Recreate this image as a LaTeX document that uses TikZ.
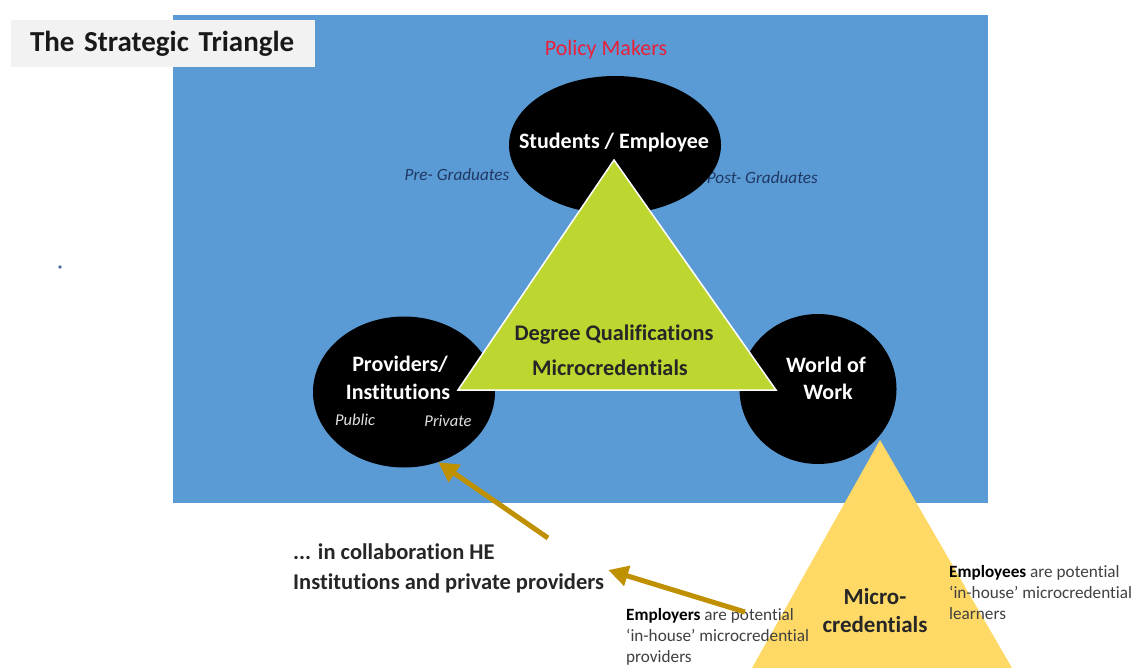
\documentclass[tikz,border=0pt]{standalone}
\usepackage{fontspec}
\setmainfont{Carlito}[Ligatures=NoCommon]
\usetikzlibrary{shapes.geometric,arrows.meta}
\definecolor{bgblue}{HTML}{5B9BD5}
\definecolor{titlegray}{HTML}{F2F2F2}
\definecolor{polred}{HTML}{E8203A}
\definecolor{gradblue}{HTML}{1F3864}
\definecolor{trigreen}{HTML}{BED630}
\definecolor{triyellow}{HTML}{FFD966}
\definecolor{gold}{HTML}{BF9000}
\definecolor{darktext}{HTML}{262626}
\definecolor{greytext}{HTML}{404040}
\definecolor{dotblue}{HTML}{4A6A9A}
\tikzset{
  blackell/.style={ellipse, fill=black, inner sep=0pt},
  whitebold/.style={text=white, font=\fontsize{22}{26}\selectfont\bfseries, inner sep=0pt},
  whiteit/.style={text=white!88!black, font=\fontsize{16.5}{20}\selectfont\itshape, inner sep=0pt},
  gradtext/.style={text=gradblue, font=\fontsize{17.2}{20}\selectfont\itshape, inner sep=0pt},
  darkbold/.style={text=darktext, font=\fontsize{22.3}{26}\selectfont\bfseries, inner sep=0pt},
  notetext/.style={text=greytext, font=\fontsize{17.2}{21}\selectfont, align=left, inner sep=0pt},
  goldarrow/.style={draw=gold, line width=5pt, -{Triangle[length=20pt,width=20pt]}},
}
\begin{document}
\begin{tikzpicture}[x=1pt,y=-1pt]
\useasboundingbox (0,0) rectangle (1145,668);
\fill[white] (0,0) rectangle (1145,668);
\fill[bgblue] (173,15) rectangle (988,503);
\fill[dotblue] (60,267) circle (1.8);
\node[fill=titlegray, minimum height=47pt, inner xsep=19pt, inner ysep=0pt, text width=266pt, align=left,
      font=\fontsize{29}{34}\selectfont\bfseries, text=black!90] (title) at (163,44) {The Strategic Triangle};
\node[text=polred, font=\fontsize{22}{26}\selectfont, inner sep=0pt] (policy) at (606,50) {Policy Makers};
\node[gradtext] (pre) at (457,175) {Pre- Graduates};
\node[gradtext, anchor=east] (post) at (818,178) {Post- Graduates};
% ellipses
\node[blackell, minimum width=212pt, minimum height=138pt] (stud) at (615,145) {};
\node[blackell, minimum width=182pt, minimum height=151pt] (prov) at (404,392) {};
\node[blackell, minimum width=157pt, minimum height=150pt] (work) at (818,389) {};
\node[whitebold] (studt) at (614,143) {Students / Employee};
\node[whitebold] (provt1) at (400,364) {Providers/};
\node[whitebold] (provt2) at (398,392) {Institutions};
\node[whiteit] (pub) at (355,420) {Public};
\node[whiteit] (priv) at (448,421) {Private};
\node[whitebold] (workt1) at (826,365) {World of};
\node[whitebold] (workt2) at (828,392) {Work};
% green triangle
\coordinate (gA) at (614,160);
\coordinate (gB) at (776,390);
\coordinate (gC) at (458,390);
\filldraw[fill=trigreen, draw=white, line width=1.5pt, line join=miter] (gA) -- (gB) -- (gC) -- cycle;
\node[darkbold] (deg) at (614,335) {Degree Qualifications};
\node[darkbold] (micro) at (610,368) {Microcredentials};
% yellow triangle
\coordinate (yA) at (880,440);
\coordinate (yB) at (1012,668);
\coordinate (yC) at (752,668);
\fill[triyellow] (yA) -- (yB) -- (yC) -- cycle;
\node[darkbold, font=\fontsize{23}{26}\selectfont\bfseries] (mc1) at (875,597) {Micro-};
\node[darkbold, font=\fontsize{23}{26}\selectfont\bfseries] (mc2) at (875,625) {credentials};
% notes
\node[notetext, anchor=north west] (emps) at (949,565) {\textbf{\color{black}Employees} are potential\\`in-house' microcredential\\learners};
\node[notetext, anchor=north west] (empl) at (626,608) {\textbf{\color{black}Employers} are potential\\`in-house' microcredential\\providers};
\node[darkbold, font=\fontsize{22.5}{30}\selectfont\bfseries, align=left, anchor=west] (collab) at (293,568) {... in collaboration HE\\Institutions and private providers};
% arrows
\coordinate (a1s) at (548,538);
\coordinate (a2s) at (745,612);
\draw[goldarrow] (a1s) -- (prov.-64);
\draw[goldarrow] (a2s) -- ([xshift=4pt,yshift=-2pt]collab.east);
\end{tikzpicture}
\end{document}
